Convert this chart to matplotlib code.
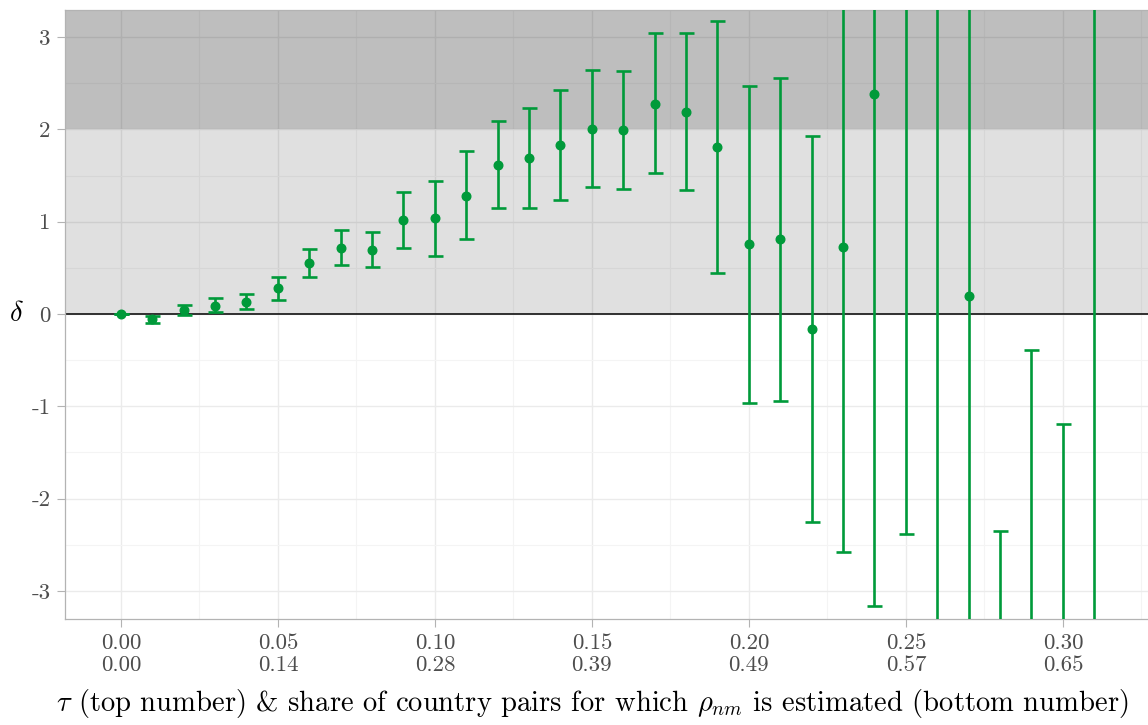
import numpy as np
import matplotlib
matplotlib.use('Agg')
import matplotlib.pyplot as plt
from matplotlib.ticker import FixedLocator

plt.rcParams['font.family'] = 'serif'
plt.rcParams['font.serif'] = ['cmr10']
plt.rcParams['mathtext.fontset'] = 'cm'
plt.rcParams['axes.unicode_minus'] = False

# tau grid and estimates of delta with confidence bounds
tau = [0.00, 0.01, 0.02, 0.03, 0.04, 0.05, 0.06, 0.07, 0.08, 0.09, 0.10,
       0.11, 0.12, 0.13, 0.14, 0.15, 0.16, 0.17, 0.18, 0.19, 0.20, 0.21,
       0.22, 0.23, 0.24, 0.25, 0.26, 0.27, 0.28, 0.29, 0.30, 0.31]
delta = [0.00, -0.05, 0.04, 0.09, 0.13, 0.28, 0.55, 0.715, 0.69, 1.02, 1.04,
         1.28, 1.62, 1.69, 1.83, 2.01, 1.99, 2.28, 2.19, 1.81, 0.755, 0.81,
         -0.16, 0.73, 2.38, 4.5, 4.0, 0.195, -5.0, -4.0, -4.5, 5.0]
upper = [0.005, -0.02, 0.10, 0.17, 0.22, 0.40, 0.70, 0.91, 0.885, 1.32, 1.44,
         1.77, 2.09, 2.235, 2.43, 2.64, 2.63, 3.04, 3.04, 3.18, 2.47, 2.56,
         1.93, 4.1, 7.9, 11.4, 12.0, 5.4, -2.35, -0.39, -1.19, 16.0]
lower = [-0.005, -0.10, -0.01, 0.02, 0.05, 0.15, 0.40, 0.53, 0.51, 0.72, 0.63,
         0.81, 1.145, 1.15, 1.235, 1.38, 1.355, 1.53, 1.34, 0.44, -0.96, -0.94,
         -2.25, -2.58, -3.16, -2.38, -4.0, -5.0, -7.6, -7.6, -7.8, -6.0]

# tick labels: tau on top, share of pairs below
tau_ticks = [0.00, 0.05, 0.10, 0.15, 0.20, 0.25, 0.30]
share_ticks = ['0.00', '0.14', '0.28', '0.39', '0.49', '0.57', '0.65']
y_ticks = [-3, -2, -1, 0, 1, 2, 3]

green = '#009a3a'
W, H = 1148, 725
fig = plt.figure(figsize=(W / 100, H / 100), dpi=100)

left_px, right_px, top_px, bot_px = 65, 1170, 9.5, 618.5
ax = fig.add_axes([left_px / W, 1 - bot_px / H,
                   (right_px - left_px) / W, (bot_px - top_px) / H])
ax.set_xlim(-0.0178, -0.0178 + (right_px - left_px) / 3140)
ax.set_ylim(-3.3, 3.3)

# grid
ax.set_axisbelow(True)
ax.xaxis.set_major_locator(FixedLocator(tau_ticks))
ax.xaxis.set_minor_locator(FixedLocator(np.arange(-0.025, 0.36, 0.05)))
ax.yaxis.set_major_locator(FixedLocator(y_ticks))
ax.yaxis.set_minor_locator(FixedLocator(np.arange(-3.5, 3.6, 1.0)))
ax.grid(which='major', color='#ebebeb', lw=1.0, zorder=0)
ax.grid(which='minor', color='#f4f4f4', lw=0.8, zorder=0)

# shaded bands
ax.axhspan(0, 10, color='black', alpha=0.12, lw=0, zorder=1)
ax.axhspan(2, 10, color='black', alpha=0.15, lw=0, zorder=1)
ax.axhline(0, color='black', lw=1.1, zorder=2)

d = np.array(delta)
yerr = [d - np.array(lower), np.array(upper) - d]
ax.errorbar(tau, delta, yerr=yerr, fmt='o', color=green, ms=6.2,
            elinewidth=1.9, capthick=1.9, capsize=5.4, zorder=3)

for s in ax.spines.values():
    s.set_color('#b3b3b3')
    s.set_linewidth(0.9)

ax.set_xticklabels([f'{t:.2f}\n{s}' for t, s in zip(tau_ticks, share_ticks)],
                   linespacing=1.2)
ax.set_yticklabels([str(v) for v in y_ticks])
ax.tick_params(which='major', length=5.5, width=0.8, color='#b3b3b3',
               labelcolor='#4d4d4d', labelsize=16.5, pad=5)
ax.tick_params(which='minor', length=0)

fig.text(16 / W, 1 - 314 / H, r'$\delta$', fontsize=20.5, ha='center', va='center')
fig.text(56 / W, 1 - 711 / H,
         r'$\tau$ (top number) & share of country pairs for which $\rho_{nm}$ is estimated (bottom number)',
         fontsize=20.6, ha='left', va='baseline')

fig.savefig('out.png', dpi=100)
